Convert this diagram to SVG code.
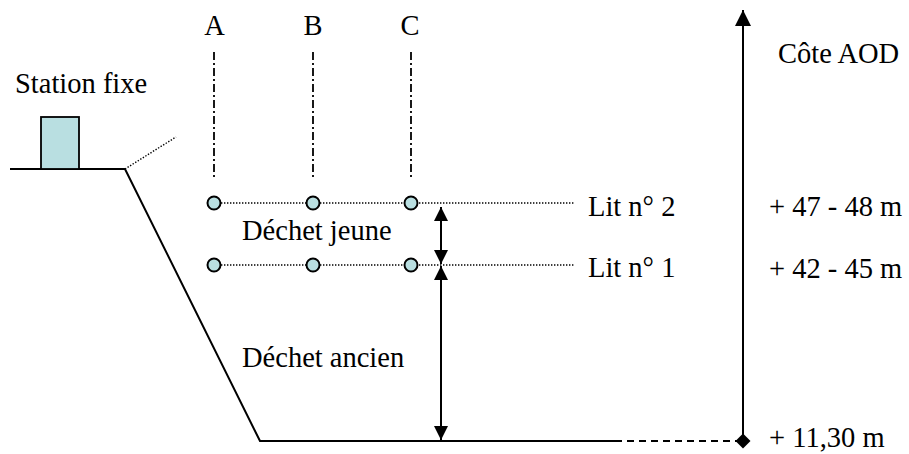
<svg xmlns="http://www.w3.org/2000/svg" width="909" height="454" viewBox="0 0 909 454">
<defs>
<style>
.t{font-family:"Liberation Serif","Times New Roman","DejaVu Serif",serif;font-size:28.5px;fill:#000}
.solid{stroke:#000;stroke-width:2;fill:none}
.dot{stroke:#000;stroke-width:1.4;stroke-dasharray:1.4,1.6;fill:none}
.dashdot{stroke:#000;stroke-width:1.8;stroke-dasharray:8,3,2,3;fill:none}
.dash{stroke:#000;stroke-width:2;stroke-dasharray:7,5;fill:none}
.pt{fill:#b9dfe1;stroke:#000;stroke-width:2}
</style>
<marker id="ah" viewBox="0 0 10 10" refX="10" refY="5" markerWidth="14" markerHeight="14" markerUnits="userSpaceOnUse" orient="auto-start-reverse">
<path d="M0,0 L10,5 L0,10 Z" fill="#000"/>
</marker>
<marker id="ahBig" viewBox="0 0 10 10" refX="10" refY="5" markerWidth="16" markerHeight="16" markerUnits="userSpaceOnUse" orient="auto">
<path d="M0,0 L10,5 L0,10 Z" fill="#000"/>
</marker>
</defs>
<g id="terrain">
<polyline class="solid" points="10,169 125,169 260,441 615,441"/>
<line class="dash" x1="615" y1="441" x2="740" y2="441"/>
<line class="dot" x1="125" y1="169" x2="176" y2="137"/>
</g>
<g id="station">
<rect x="41" y="117" width="38" height="52" fill="#b9dfe1" stroke="#000" stroke-width="1.8"/>
<text class="t" font-family="Liberation Serif, serif" x="15" y="93">Station fixe</text>
</g>
<g id="connectors">
<line class="dashdot" x1="214" y1="52" x2="214" y2="178"/>
<line class="dashdot" x1="313" y1="52" x2="313" y2="178"/>
<line class="dashdot" x1="411" y1="52" x2="411" y2="178"/>
<line class="dot" x1="221" y1="203" x2="574" y2="203"/>
<line class="dot" x1="221" y1="265" x2="574" y2="265"/>
<line class="solid" x1="441" y1="207" x2="441" y2="264" marker-start="url(#ah)" marker-end="url(#ah)"/>
<line class="solid" x1="441" y1="266" x2="441" y2="440" marker-start="url(#ah)" marker-end="url(#ah)"/>
<line class="solid" x1="743" y1="441" x2="743" y2="10" marker-end="url(#ahBig)"/>
<path d="M743,433.5 L750.5,441 L743,448.5 L735.5,441 Z" fill="#000"/>
</g>
<g id="points">
<circle class="pt" cx="214" cy="203" r="6.5"/>
<circle class="pt" cx="313" cy="203" r="6.5"/>
<circle class="pt" cx="411" cy="203" r="6.5"/>
<circle class="pt" cx="214" cy="265" r="6.5"/>
<circle class="pt" cx="313" cy="265" r="6.5"/>
<circle class="pt" cx="411" cy="265" r="6.5"/>
</g>
<g id="labels" font-family="Liberation Serif, serif">
<text class="t" x="214.5" y="35" text-anchor="middle">A</text>
<text class="t" x="313" y="35" text-anchor="middle">B</text>
<text class="t" x="410" y="35" text-anchor="middle">C</text>
<text class="t" x="242" y="240">Déchet jeune</text>
<text class="t" x="242" y="367">Déchet ancien</text>
<text class="t" x="588" y="216">Lit n° 2</text>
<text class="t" x="588" y="277">Lit n° 1</text>
<text class="t" x="778" y="63">Côte AOD</text>
<text class="t" x="769" y="216">+ 47 - 48 m</text>
<text class="t" x="769" y="278">+ 42 - 45 m</text>
<text class="t" x="769" y="447">+ 11,30 m</text>
</g>
</svg>
